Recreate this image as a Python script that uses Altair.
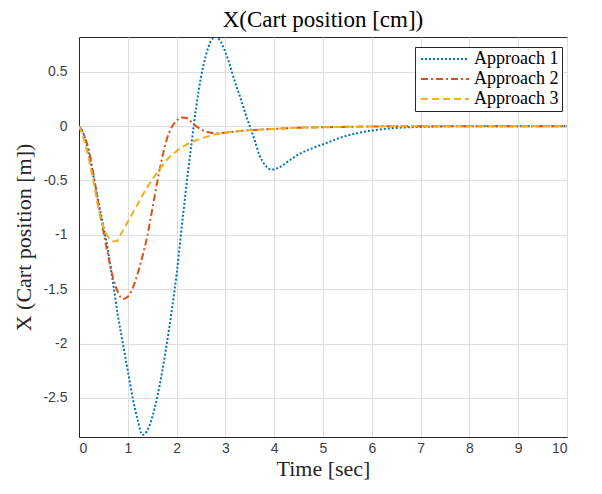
import altair as alt
import pandas as pd

names = ["Approach 1", "Approach 2", "Approach 3"]
colors = ["#0072BD", "#D95319", "#EDB120"]
dashes = [[2, 2], [7, 3, 2, 3], [7, 4]]

t1 = [0, 0.1, 0.2, 0.3, 0.4, 0.5, 0.6, 0.7, 0.8, 0.9, 1.0, 1.1, 1.2, 1.3, 1.4, 1.5,
      1.6, 1.7, 1.8, 1.9, 2.0, 2.1, 2.2, 2.3, 2.4, 2.5, 2.6, 2.7, 2.8, 2.9, 3.0, 3.1,
      3.2, 3.3, 3.4, 3.5, 3.6, 3.7, 3.8, 3.95, 4.1, 4.3, 4.5, 4.8, 5.1, 5.4, 5.7, 6.0,
      6.4, 6.8, 7.2, 8, 9, 10]
y1 = [0, -0.08, -0.25, -0.47, -0.70, -0.92, -1.16, -1.45, -1.75, -2.00, -2.25, -2.50,
      -2.70, -2.84, -2.80, -2.68, -2.50, -2.27, -2.00, -1.70, -1.36, -0.95, -0.55, -0.18,
      0.17, 0.45, 0.65, 0.78, 0.82, 0.78, 0.68, 0.55, 0.40, 0.27, 0.13, 0.00, -0.13,
      -0.27, -0.35, -0.40, -0.38, -0.32, -0.26, -0.20, -0.15, -0.10, -0.065, -0.04,
      -0.02, -0.01, -0.005, 0, 0, 0]

t2 = [0, 0.1, 0.2, 0.3, 0.4, 0.5, 0.6, 0.7, 0.8, 0.9, 1.0, 1.1, 1.2, 1.3, 1.4, 1.5,
      1.6, 1.7, 1.8, 1.9, 2.0, 2.1, 2.2, 2.3, 2.4, 2.5, 2.6, 2.7, 2.85, 3.0, 3.3, 3.6,
      4.0, 4.5, 5.0, 6.0, 7, 8, 9, 10]
y2 = [0, -0.08, -0.22, -0.45, -0.72, -0.97, -1.20, -1.40, -1.53, -1.59, -1.57, -1.49,
      -1.36, -1.20, -1.01, -0.77, -0.52, -0.30, -0.12, -0.01, 0.05, 0.08, 0.075, 0.04,
      0.0, -0.03, -0.05, -0.06, -0.065, -0.06, -0.045, -0.035, -0.025, -0.015, -0.01,
      -0.003, 0, 0, 0, 0]

t3 = [0, 0.1, 0.2, 0.3, 0.4, 0.5, 0.6, 0.7, 0.77, 0.85, 1.0, 1.2, 1.4, 1.6, 1.8, 2.0,
      2.2, 2.4, 2.6, 2.8, 3.0, 3.3, 3.6, 4.0, 4.5, 5.0, 6.0, 7, 8, 9, 10]
y3 = [0, -0.12, -0.30, -0.52, -0.76, -0.93, -1.02, -1.06, -1.06, -1.00, -0.88, -0.72,
      -0.56, -0.43, -0.31, -0.23, -0.17, -0.13, -0.10, -0.075, -0.06, -0.045, -0.035,
      -0.025, -0.015, -0.01, -0.003, 0, 0, 0, 0]

x_ticks = list(range(11))
y_ticks = [-2.5, -2, -1.5, -1, -0.5, 0, 0.5]

rows = []
for name, ts, ys in zip(names, [t1, t2, t3], [y1, y2, y3]):
    for t, v in zip(ts, ys):
        rows.append({"series": name, "t": t, "x": v})
df = pd.DataFrame(rows)

serif = "Liberation Serif"
sans = "Liberation Sans"

leg = alt.Legend(
    orient="none", legendX=336, legendY=10, title=None,
    strokeColor="#262626", fillColor="white", padding=3,
    labelFont=serif, labelFontSize=18, labelColor="black", labelOffset=38,
    symbolType="M-1,0H7", symbolSize=144, symbolStrokeWidth=2, rowPadding=2,
    symbolOffset=0,
)

chart = alt.Chart(df).mark_line(
    strokeWidth=2, interpolate="monotone", strokeCap="butt", clip=True
).encode(
    x=alt.X("t:Q", scale=alt.Scale(domain=[0, 10], nice=False),
            axis=alt.Axis(values=x_ticks, title="Time [sec]", labelExpr="toString(datum.value)")),
    y=alt.Y("x:Q", scale=alt.Scale(domain=[-2.86, 0.82], nice=False, zero=False),
            axis=alt.Axis(values=y_ticks, title="X (Cart position [m])",
                          labelExpr="toString(datum.value)")),
    color=alt.Color("series:N", scale=alt.Scale(domain=names, range=colors), legend=leg),
    strokeDash=alt.StrokeDash("series:N", scale=alt.Scale(domain=names, range=dashes), legend=leg),
).properties(
    width=488, height=400,
    title=alt.Title("X(Cart position [cm])", font=serif, fontSize=23,
                    fontWeight="normal", color="black", offset=5),
    autosize=alt.AutoSizeParams(type="none"),
    padding={"left": 71, "top": 29, "right": 20, "bottom": 45},
).configure_view(
    stroke="#262626", strokeWidth=1
).configure_axis(
    grid=True, gridColor="#dedede", gridWidth=1,
    domainColor="#262626", ticks=False,
    labelFont=sans, labelFontSize=14, labelColor="#404040",
    titleFont=serif, titleFontSize=22, titleFontWeight="normal", titleColor="#262626",
).configure_axisX(
    labelPadding=4, titlePadding=3,
).configure_axisY(
    labelPadding=12, titlePadding=7,
)

chart.save("out.html", embed_options={"renderer": "svg", "actions": False})
